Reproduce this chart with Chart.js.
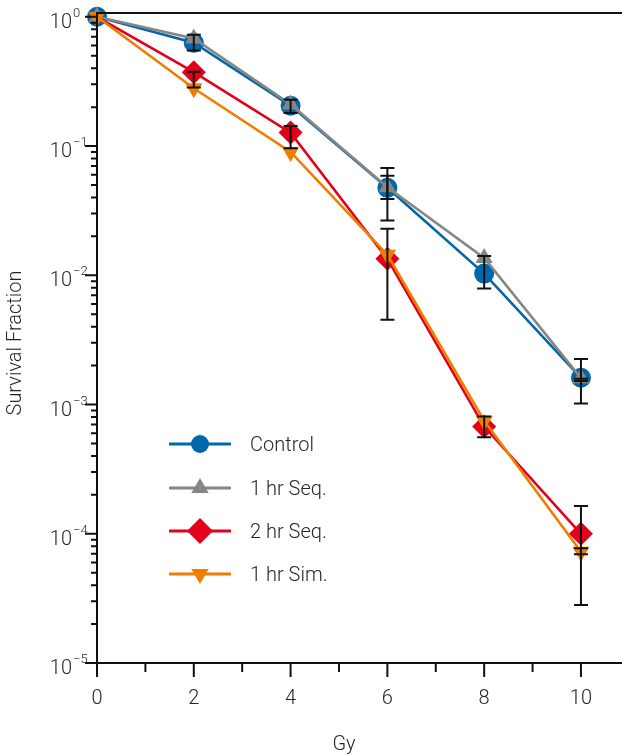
<!DOCTYPE html>
<html><head><meta charset="utf-8">
<script src="https://cdn.jsdelivr.net/npm/chart.js@4/dist/chart.umd.min.js"></script>
<style>html,body{margin:0;padding:0;background:#fff}#wrap{width:622px;height:755px;position:relative}</style>
</head><body><div id="wrap"><canvas id="c" width="622" height="755"></canvas></div>
<script>
// ---- data ----
const doses = [0, 2, 4, 6, 8, 10];
const seriesLabels = ['Control', '1 hr Seq.', '2 hr Seq.', '1 hr Sim.'];
const control = [1.0, 0.63, 0.205, 0.0475, 0.0103, 0.00161];
const seq1hr  = [1.0, 0.68, 0.21, 0.048, 0.0136, 0.0016];
const seq2hr  = [1.0, 0.373, 0.127, 0.0134, 0.000675, 0.0001];
const sim1hr  = [1.0, 0.28, 0.09, 0.0144, 0.00075, 0.0000727];
const controlErrLow  = [null, 0.548, 0.18, 0.0265, 0.0079, 0.00102];
const controlErrHigh = [null, 0.725, 0.228, 0.0675, 0.0141, 0.00225];
const seq1hrErrLow   = [null, null, null, 0.039, null, 0.00152];
const seq1hrErrHigh  = [null, null, null, 0.0588, null, 0.00158];
const seq2hrErrLow   = [null, 0.284, 0.0963, 0.00452, 0.000558, 0.0000281];
const seq2hrErrHigh  = [null, 0.375, 0.143, 0.0229, 0.000806, 0.000164];
const sim1hrErrLow   = [null, null, null, null, null, 0.0000694];
const sim1hrErrHigh  = [null, null, null, null, null, 0.0000772];
const xMajorTicks = [0, 2, 4, 6, 8, 10];
const xMinorTicks = [1, 3, 5, 7, 9];
const yDecadeExponents = [0, -1, -2, -3, -4, -5];
const xTitle = 'Gy';
const yTitle = 'Survival Fraction';

const COLORS = ['#0068a8', '#868686', '#e2001a', '#ef7d00'];
const FONT = 'Roboto, "Liberation Sans", sans-serif';
const TXT = '#262626';

function pts(arr) { return doses.map((d, i) => ({x: d, y: arr[i]})); }

const errSets = [
  [controlErrLow, controlErrHigh],
  [seq1hrErrLow, seq1hrErrHigh],
  [seq2hrErrLow, seq2hrErrHigh],
  [sim1hrErrLow, sim1hrErrHigh]
];

function drawMarker(ctx, style, r, rot, x, y, color) {
  ctx.save();
  ctx.fillStyle = color;
  ctx.beginPath();
  if (style === 'circle') {
    ctx.arc(x, y, r, 0, Math.PI * 2);
  } else if (style === 'triangle') {
    const a = rot * Math.PI / 180;
    for (let k = 0; k < 3; k++) {
      const ang = a + k * 2 * Math.PI / 3;
      const px = x + Math.sin(ang) * r, py = y - Math.cos(ang) * r;
      if (k === 0) ctx.moveTo(px, py); else ctx.lineTo(px, py);
    }
    ctx.closePath();
  } else if (style === 'rectRot') {
    ctx.moveTo(x - r, y); ctx.lineTo(x, y - r); ctx.lineTo(x + r, y); ctx.lineTo(x, y + r);
    ctx.closePath();
  }
  ctx.fill();
  ctx.restore();
}

const axesPlugin = {
  id: 'customAxes',
  afterDatasetsDraw(chart) {
    const ctx = chart.ctx, xs = chart.scales.x, ys = chart.scales.y;
    // error bars
    ctx.save();
    ctx.strokeStyle = '#111';
    ctx.lineWidth = 2;
    errSets.forEach(([lo, hi]) => {
      doses.forEach((d, i) => {
        if (lo[i] == null || hi[i] == null) return;
        const px = xs.getPixelForValue(d);
        const p1 = ys.getPixelForValue(lo[i]), p2 = ys.getPixelForValue(hi[i]);
        ctx.beginPath();
        ctx.moveTo(px, p1); ctx.lineTo(px, p2);
        ctx.moveTo(px - 7, p1); ctx.lineTo(px + 7, p1);
        ctx.moveTo(px - 7, p2); ctx.lineTo(px + 7, p2);
        ctx.stroke();
      });
    });
    ctx.restore();
  },
  afterDraw(chart) {
    const ctx = chart.ctx, xs = chart.scales.x, ys = chart.scales.y, ca = chart.chartArea;
    const W = chart.width;
    ctx.save();
    ctx.strokeStyle = '#111';
    ctx.lineWidth = 2;
    ctx.lineCap = 'butt';
    // axis lines
    ctx.beginPath();
    ctx.moveTo(ca.left, ca.top); ctx.lineTo(ca.left, ca.bottom + 1);
    ctx.moveTo(ca.left - 1, ca.bottom); ctx.lineTo(W, ca.bottom);
    ctx.moveTo(ca.left - 1, ca.top); ctx.lineTo(W, ca.top);
    ctx.stroke();
    // y ticks
    ctx.beginPath();
    yDecadeExponents.forEach(e => {
      const py = ys.getPixelForValue(Math.pow(10, e));
      ctx.moveTo(ca.left - 12, py); ctx.lineTo(ca.left, py);
      if (e < 0) {
        for (let k = 2; k <= 9; k++) {
          const my = ys.getPixelForValue(k * Math.pow(10, e));
          ctx.moveTo(ca.left - 6, my); ctx.lineTo(ca.left, my);
        }
      }
    });
    // x ticks
    xMajorTicks.forEach(v => {
      const px = xs.getPixelForValue(v);
      ctx.moveTo(px, ca.bottom); ctx.lineTo(px, ca.bottom + 14);
    });
    xMinorTicks.forEach(v => {
      const px = xs.getPixelForValue(v);
      ctx.moveTo(px, ca.bottom); ctx.lineTo(px, ca.bottom + 9);
    });
    ctx.stroke();
    // y labels
    ctx.fillStyle = TXT;
    yDecadeExponents.forEach(e => {
      const py = ys.getPixelForValue(Math.pow(10, e));
      ctx.font = '300 20px ' + FONT;
      ctx.textAlign = 'right';
      ctx.textBaseline = 'alphabetic';
      ctx.fillText('10', 72, py + 11);
      ctx.font = '300 13px ' + FONT;
      ctx.textAlign = 'left';
      ctx.fillText(e === 0 ? '0' : '\u2212' + Math.abs(e), 73, py);
    });
    // x labels
    ctx.font = '300 20px ' + FONT;
    ctx.textAlign = 'center';
    xMajorTicks.forEach(v => {
      ctx.fillText(String(v), xs.getPixelForValue(v), 704);
    });
    // titles
    ctx.fillText(xTitle, 344, 750);
    ctx.save();
    ctx.translate(16, 343);
    ctx.rotate(-Math.PI / 2);
    ctx.textBaseline = 'middle';
    ctx.fillText(yTitle, 0, 0);
    ctx.restore();
    // legend
    const rows = [444, 488, 531, 574];
    const legendMarker = [9, 10, 13, 10];
    chart.data.datasets.forEach((ds, i) => {
      const y = rows[i];
      ctx.strokeStyle = ds.borderColor;
      ctx.lineWidth = 3;
      ctx.beginPath(); ctx.moveTo(169, y); ctx.lineTo(231, y); ctx.stroke();
      drawMarker(ctx, ds.pointStyle, legendMarker[i], ds.rotation || 0, 200, y, ds.borderColor);
      ctx.fillStyle = TXT;
      ctx.font = '300 20px ' + FONT;
      ctx.textAlign = 'left';
      ctx.textBaseline = 'alphabetic';
      ctx.fillText(ds.label, 250, y + 7);
    });
    ctx.restore();
  }
};

const datasets = [
  {label: seriesLabels[0], data: pts(control), borderColor: COLORS[0], backgroundColor: COLORS[0],
   pointStyle: 'circle', pointRadius: 10, order: 3},
  {label: seriesLabels[1], data: pts(seq1hr), borderColor: COLORS[1], backgroundColor: COLORS[1],
   pointStyle: 'triangle', pointRadius: 10, order: 2},
  {label: seriesLabels[2], data: pts(seq2hr), borderColor: COLORS[2], backgroundColor: COLORS[2],
   pointStyle: 'rectRot', pointRadius: c => c.dataIndex === 0 ? 0 : 12, order: 1},
  {label: seriesLabels[3], data: pts(sim1hr), borderColor: COLORS[3], backgroundColor: COLORS[3],
   pointStyle: 'triangle', rotation: 180, pointRadius: 10, order: 0}
].map(d => Object.assign({borderWidth: 2.6, pointBorderWidth: 0, pointHoverRadius: d.pointRadius,
  clip: false, tension: 0, pointRotation: d.rotation || 0}, d));

new Chart(document.getElementById('c'), {
  type: 'line',
  data: {datasets},
  options: {
    responsive: false,
    animation: false,
    events: [],
    layout: {padding: {left: 97, top: 13, right: 0, bottom: 92}},
    plugins: {legend: {display: false}, tooltip: {enabled: false}},
    scales: {
      x: {type: 'linear', min: 0, max: 10.6, display: false},
      y: {type: 'logarithmic', min: 0.00001, max: 1.07, display: false}
    }
  },
  plugins: [axesPlugin]
});
</script></body></html>
